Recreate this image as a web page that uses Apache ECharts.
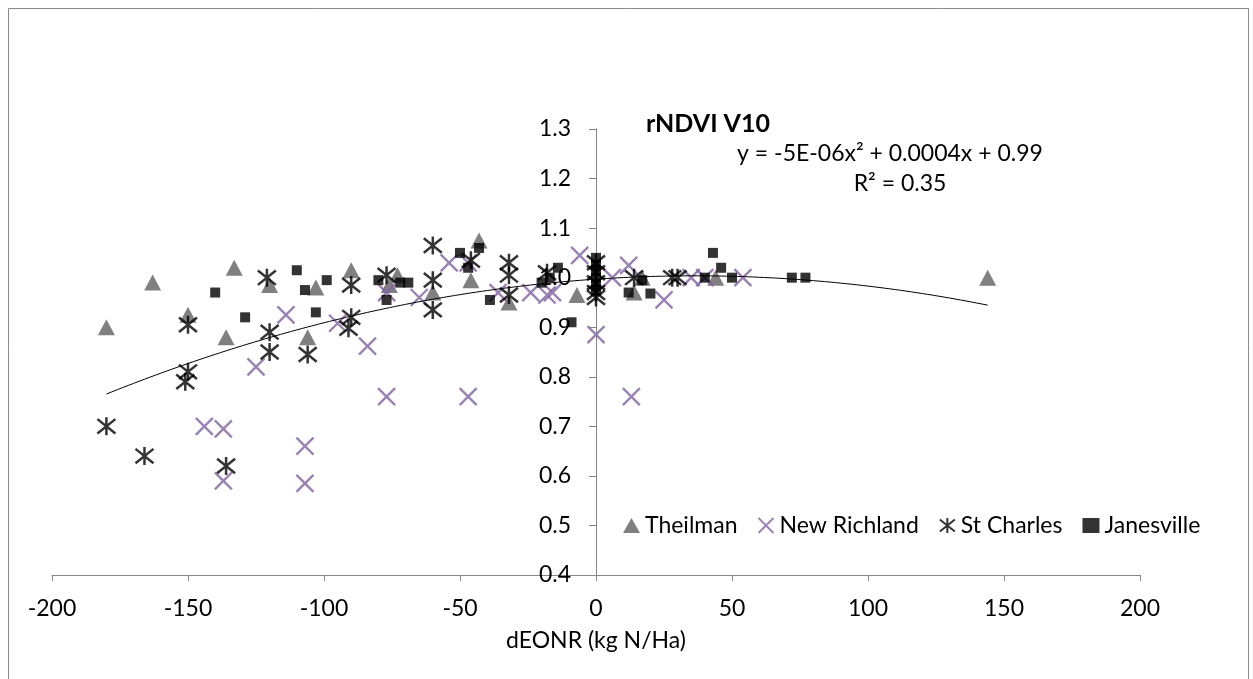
<!DOCTYPE html>
<html><head><meta charset="utf-8">
<script src="https://cdn.jsdelivr.net/npm/echarts@6/dist/echarts.min.js"></script>
<style>html,body{margin:0;padding:0;background:#fff}#c{width:1253px;height:679px}</style>
</head><body><div id="c"></div>
<script>
const seriesNames = ['Theilman', 'New Richland', 'St Charles', 'Janesville'];
const theilman = [[-180,0.90],[-163,0.99],[-150,0.925],[-136,0.88],[-133,1.02],[-120,0.985],[-106,0.88],[-103,0.98],[-90,1.015],[-76,0.985],[-73,1.005],[-60,0.97],[-46,0.995],[-43,1.075],[-32,0.95],[-7,0.965],[14,0.97],[17,1.0],[44,1.0],[144,1.0]];
const newRichland = [[-144,0.70],[-137,0.695],[-137,0.59],[-125,0.82],[-114,0.925],[-107,0.66],[-107,0.585],[-95,0.908],[-84,0.862],[-77,0.97],[-77,0.76],[-65,0.96],[-54,1.03],[-47,1.03],[-47,0.76],[-36,0.97],[-24,0.97],[-18,0.965],[-16,0.97],[-6,1.045],[0,0.885],[6,1.0],[12,1.025],[13,0.76],[25,0.955],[35,1.0],[40,1.0],[54,1.0]];
const stCharles = [[-180,0.70],[-166,0.64],[-151,0.79],[-150,0.81],[-150,0.905],[-136,0.62],[-121,1.0],[-120,0.89],[-120,0.85],[-106,0.845],[-91,0.898],[-90,0.92],[-90,0.985],[-77,1.005],[-60,1.065],[-60,0.995],[-60,0.935],[-46,1.035],[-32,1.03],[-32,1.005],[-32,0.965],[-18,1.01],[0,1.03],[0,1.01],[0,0.99],[0,0.97],[0,0.96],[14,1.0],[28,1.0],[30,1.0]];
const janesville = [[-140,0.97],[-129,0.92],[-110,1.015],[-107,0.975],[-103,0.93],[-99,0.995],[-80,0.995],[-77,0.955],[-72,0.99],[-69,0.99],[-50,1.05],[-47,1.02],[-43,1.06],[-39,0.955],[-20,0.99],[-17,1.0],[-14,1.02],[-9,0.91],[0,1.04],[0,1.025],[0,1.015],[0,1.0],[0,0.985],[0,0.975],[12,0.97],[17,0.995],[20,0.968],[40,1.0],[43,1.05],[46,1.02],[50,1.0],[72,1.0],[77,1.0]];
// polynomial trendline (as drawn)
const trendCoef = {a: -5.1e-6, b: 0.00037, c: 0.997};
const trendRange = [-180, 144];
const titleText = 'rNDVI V10';
const eqText = 'y = -5E-06x\u00B2 + 0.0004x + 0.99';
const r2Text = 'R\u00B2 = 0.35';
const xTitle = 'dEONR (kg N/Ha)';

const trend = [];
for (let x = trendRange[0]; x <= trendRange[1]; x += 2) {
  trend.push([x, trendCoef.a * x * x + trendCoef.b * x + trendCoef.c]);
}
const FONT = 'Lato';
const FS = 23;
const xSym = 'path://M0,0 L20,20 M20,0 L0,20';
const starSym = 'path://M10,0 L10,20 M0,2 L20,18 M20,2 L0,18';

const chart = echarts.init(document.getElementById('c'), null, {renderer: 'canvas'});
chart.setOption({
  animation: false,
  backgroundColor: '#fff',
  textStyle: {fontFamily: FONT},
  title: {text: titleText, left: 641, top: 106,
    textStyle: {fontFamily: FONT, fontWeight: 'bold', fontSize: 25, color: '#000'}},
  graphic: [
    {type: 'rect', shape: {x: 8.5, y: 8.5, width: 1240, height: 720}, style: {fill: 'none', stroke: '#8a8a8a', lineWidth: 1}, silent: true, z: -10},
    {type: 'text', x: 890, y: 154, style: {text: eqText, font: FS + 'px ' + FONT, fill: '#000', align: 'center', verticalAlign: 'middle'}},
    {type: 'text', x: 900, y: 184, style: {text: r2Text, font: FS + 'px ' + FONT, fill: '#000', align: 'center', verticalAlign: 'middle'}}
  ],
  legend: {
    left: 618, top: 509, itemGap: 20, itemWidth: 17, itemHeight: 15,
    textStyle: {fontFamily: FONT, fontSize: FS, color: '#000', padding: [0, 0, 0, 0]},
    data: seriesNames
  },
  grid: {left: 52, right: 113, top: 129, bottom: 104, containLabel: false},
  xAxis: {
    type: 'value', min: -200, max: 200, interval: 50,
    name: xTitle, nameLocation: 'middle', nameGap: 54,
    nameTextStyle: {fontFamily: FONT, fontSize: FS, color: '#000'},
    axisLine: {onZero: false, lineStyle: {color: '#868686', width: 1}},
    axisTick: {show: true, length: 6, lineStyle: {color: '#868686'}},
    axisLabel: {margin: 22, fontFamily: FONT, fontSize: FS, color: '#000'},
    splitLine: {show: false}
  },
  yAxis: {
    type: 'value', min: 0.4, max: 1.3, interval: 0.1, position: 'left', offset: -544,
    axisLine: {show: true, onZero: false, lineStyle: {color: '#868686', width: 1}},
    axisTick: {show: true, length: 7, lineStyle: {color: '#868686'}},
    axisLabel: {margin: 25, fontFamily: FONT, fontSize: FS, color: '#000',
      formatter: v => (Math.round(v * 10) / 10).toFixed(1)},
    splitLine: {show: false}
  },
  series: [
    {name: 'Theilman', type: 'scatter', data: theilman, symbol: 'triangle', symbolSize: [17, 16],
      itemStyle: {color: '#808080', opacity: 1}},
    {name: 'New Richland', type: 'scatter', data: newRichland, symbol: xSym, symbolSize: 17,
      itemStyle: {color: '#8064A2', borderColor: '#8064A2', borderWidth: 2.4}},
    {name: 'St Charles', type: 'scatter', data: stCharles, symbol: starSym, symbolSize: 18,
      itemStyle: {color: '#000', borderColor: '#000', borderWidth: 2.5}},
    {name: 'Janesville', type: 'scatter', data: janesville, symbol: 'rect', symbolSize: 10,
      itemStyle: {color: '#000'}},
    {name: 'trend', type: 'line', data: trend, showSymbol: false, symbol: 'none', smooth: false,
      lineStyle: {color: '#000', width: 1}, z: 5}
  ]
});
</script></body></html>
